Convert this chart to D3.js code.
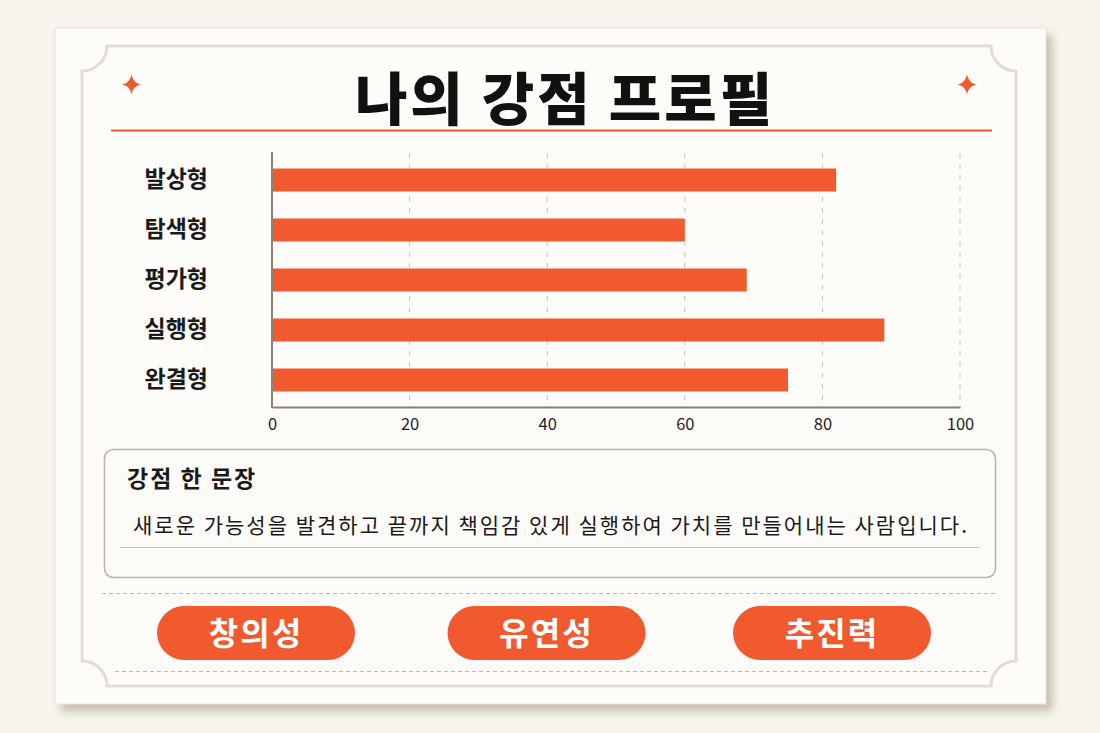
<!DOCTYPE html>
<html><head><meta charset="utf-8">
<script src="https://cdn.jsdelivr.net/npm/d3@7"></script>
<style>
html,body{margin:0;padding:0;background:#f8f5ee;}
svg{display:block;}
</style></head>
<body>
<script>
const titleText = "나의 강점 프로필";
const categories = ["발상형", "탐색형", "평가형", "실행형", "완결형"];
const values = [82, 60, 69, 89, 75];
const tickValues = [0, 20, 40, 60, 80, 100];
const boxTitle = "강점 한 문장";
const sentence = "새로운 가능성을 발견하고 끝까지 책임감 있게 실행하여 가치를 만들어내는 사람입니다.";
const keywords = ["창의성", "유연성", "추진력"];

const W = 1100, H = 733;
const ORANGE = "#f15a2f";
const FONT = "'Noto Sans CJK KR', 'Noto Sans', sans-serif";

const svg = d3.select("body").append("svg").attr("width", W).attr("height", H);
const defs = svg.append("defs");
const f = defs.append("filter").attr("id", "sh").attr("x", "-5%").attr("y", "-5%").attr("width", "115%").attr("height", "120%");
f.append("feDropShadow").attr("dx", 6).attr("dy", 7).attr("stdDeviation", 5).attr("flood-color", "#7a6a4a").attr("flood-opacity", 0.4);

svg.append("rect").attr("width", W).attr("height", H).attr("fill", "#f8f5ee");

// card
svg.append("rect").attr("x", 55).attr("y", 28).attr("width", 991).attr("height", 676)
  .attr("fill", "#fdfcf9").attr("stroke", "#e6e1d8").attr("stroke-width", 1).attr("filter", "url(#sh)");

// inner notched border
(function(){
  const x0 = 82, y0 = 46, x1 = 1016, y1 = 686, r = 25;
  const p = `M${x0+r},${y0} H${x1-r} A${r},${r} 0 0 0 ${x1},${y0+r} V${y1-r} A${r},${r} 0 0 0 ${x1-r},${y1} H${x0+r} A${r},${r} 0 0 0 ${x0},${y1-r} V${y0+r} A${r},${r} 0 0 0 ${x0+r},${y0} Z`;
  svg.append("path").attr("d", p).attr("fill", "none").attr("stroke", "#e2ddd1").attr("stroke-width", 3);
})();

// stars
const starPath = "M0,-10 Q1.6,-1.6 9,0 Q1.6,1.6 0,10 Q-1.6,1.6 -9,0 Q-1.6,-1.6 0,-10Z";
[[131.5, 84.5], [967, 84.5]].forEach(([x, y]) => {
  svg.append("path").attr("d", starPath).attr("transform", `translate(${x},${y})`).attr("fill", ORANGE);
});

// title
svg.append("text").attr("x", 565).attr("y", 120).attr("text-anchor", "middle")
  .attr("font-family", FONT).attr("font-weight", 900).attr("font-size", 57)
  .attr("letter-spacing", 3).attr("fill", "#111").text(titleText);
svg.append("line").attr("x1", 111).attr("x2", 992).attr("y1", 130.5).attr("y2", 130.5)
  .attr("stroke", ORANGE).attr("stroke-width", 2);

// chart
const x = d3.scaleLinear().domain([0, 100]).range([272, 960]);
const y = d3.scaleBand().domain(categories).range([155, 405]).paddingInner(0.54).paddingOuter(0.27);

const grid = svg.append("g");
grid.selectAll("line").data(tickValues.filter(d => d > 0)).join("line")
  .attr("x1", d => x(d)).attr("x2", d => x(d)).attr("y1", 153).attr("y2", 407)
  .attr("stroke", "#c9c6c0").attr("stroke-width", 1).attr("stroke-dasharray", "5,6");

svg.append("g").selectAll("rect").data(values).join("rect")
  .attr("x", x(0)).attr("y", (d, i) => y(categories[i]))
  .attr("width", d => x(d) - x(0)).attr("height", y.bandwidth())
  .attr("fill", ORANGE);

const xAxis = svg.append("g").attr("transform", "translate(0,407)")
  .call(d3.axisBottom(x).tickValues(tickValues).tickSize(0).tickPadding(11));
xAxis.select(".domain").attr("stroke", "#8b8176").attr("stroke-width", 2);
xAxis.selectAll("text").attr("font-family", FONT).attr("font-size", 16.5).attr("fill", "#222");

const yAxis = svg.append("g").attr("transform", "translate(272,0)")
  .call(d3.axisLeft(y).tickSize(0).tickPadding(64));
yAxis.select(".domain").remove();
svg.append("line").attr("x1", 272).attr("x2", 272).attr("y1", 152).attr("y2", 408)
  .attr("stroke", "#8b8176").attr("stroke-width", 2);
yAxis.selectAll("text").attr("font-family", FONT).attr("font-weight", 700).attr("font-size", 23).attr("fill", "#1a1a1a");

// text box
svg.append("rect").attr("x", 104.5).attr("y", 449.5).attr("width", 891).attr("height", 128).attr("rx", 9)
  .attr("fill", "#fcfbf8").attr("stroke", "#bbb5aa").attr("stroke-width", 1.6);
svg.append("text").attr("x", 127).attr("y", 487).attr("font-family", FONT).attr("font-weight", 700)
  .attr("font-size", 23).attr("letter-spacing", 2).attr("fill", "#1a1a1a").text(boxTitle);
svg.append("text").attr("x", 133).attr("y", 533).attr("font-family", FONT).attr("font-weight", 400)
  .attr("font-size", 21).attr("fill", "#1a1a1a").attr("textLength", 834).attr("lengthAdjust", "spacing").text(sentence);
svg.append("line").attr("x1", 120).attr("x2", 980).attr("y1", 547.5).attr("y2", 547.5)
  .attr("stroke", "#c8c3ba").attr("stroke-width", 1);

// dashed separators
svg.append("line").attr("x1", 102).attr("x2", 996).attr("y1", 593.5).attr("y2", 593.5)
  .attr("stroke", "#f0a584").attr("stroke-width", 1).attr("stroke-dasharray", "4,3");
svg.append("line").attr("x1", 115).attr("x2", 987).attr("y1", 671.5).attr("y2", 671.5)
  .attr("stroke", "#f0a584").attr("stroke-width", 1).attr("stroke-dasharray", "4,3");

// keyword pills
const pillCx = [256, 546.5, 832];
const pills = svg.append("g").selectAll("g").data(keywords).join("g")
  .attr("transform", (d, i) => `translate(${pillCx[i]},633)`);
pills.append("rect").attr("x", -99).attr("y", -27).attr("width", 198).attr("height", 54).attr("rx", 27)
  .attr("fill", ORANGE);
pills.append("text").attr("text-anchor", "middle").attr("y", 11.5)
  .attr("font-family", FONT).attr("font-weight", 700).attr("font-size", 32).attr("fill", "#fff")
  .attr("letter-spacing", 2).text(d => d);
</script>
</body></html>
